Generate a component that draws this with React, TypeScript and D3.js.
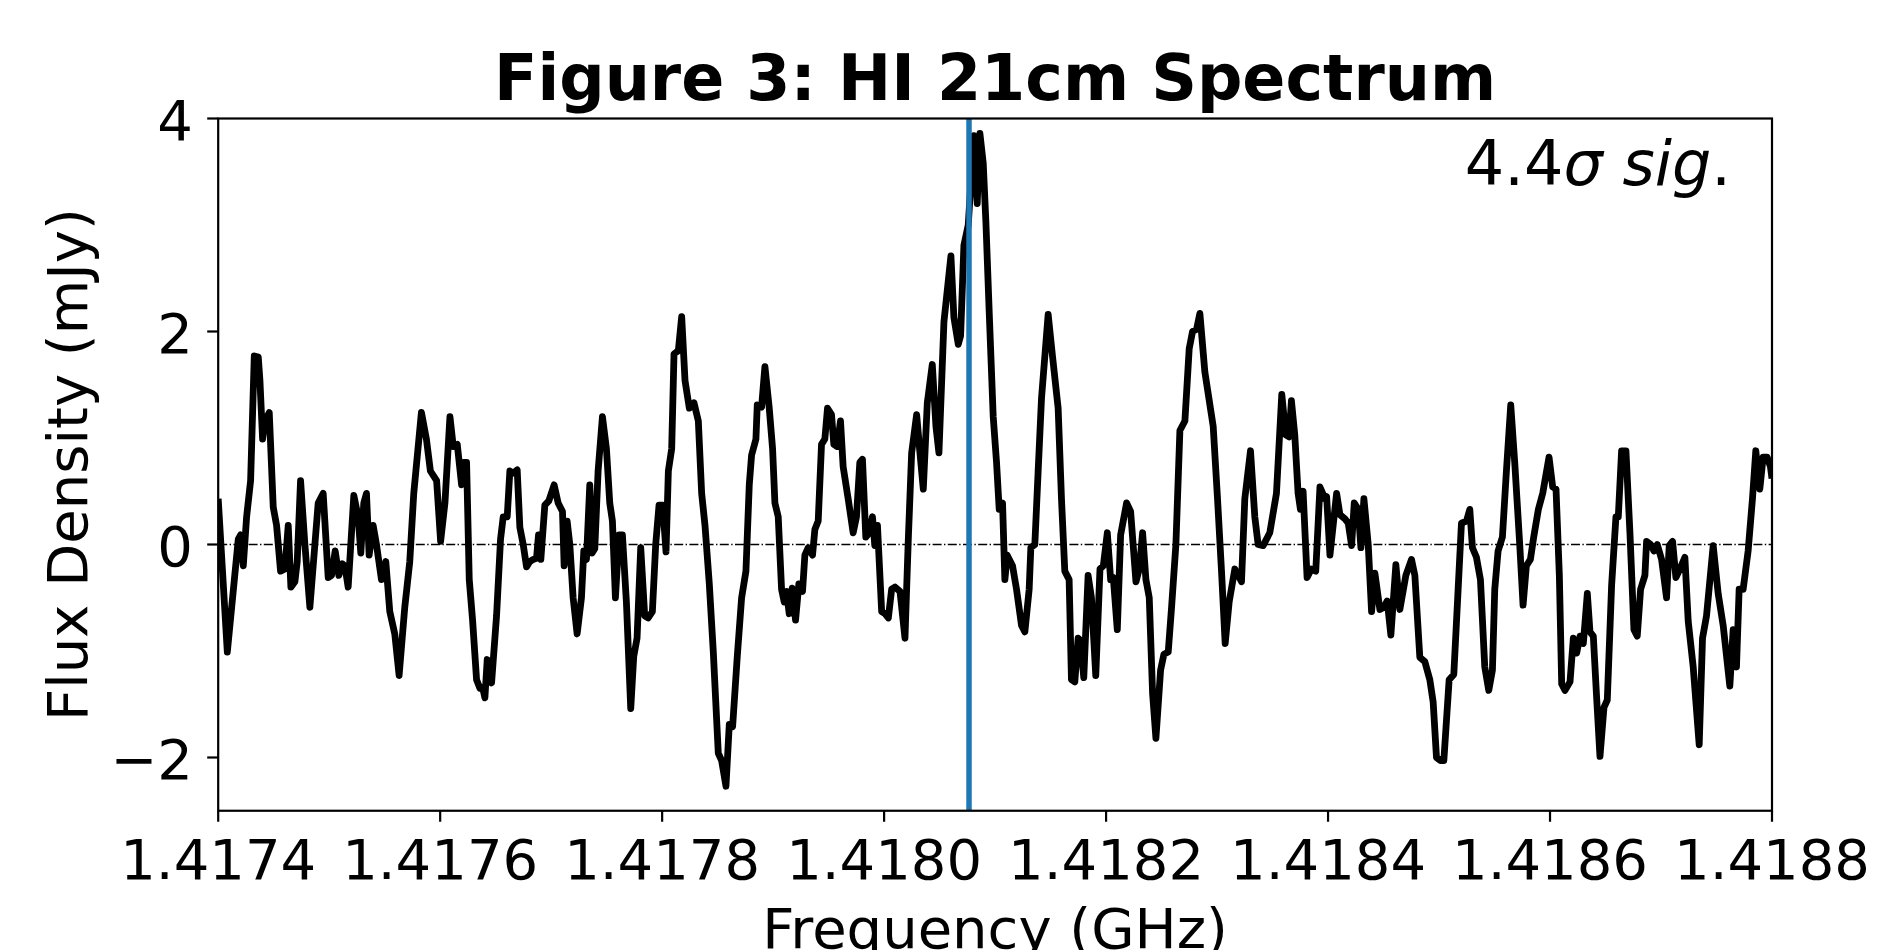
import React from "react";
import * as d3 from "d3";

// Frequency (GHz) of each traced vertex of the spectrum
const freqGHz = [
  1.4174000, 1.4174082, 1.4174181, 1.4174202, 1.4174226, 1.4174256, 1.4174292, 1.4174325, 1.4174361, 1.4174376,
  1.4174400, 1.4174421, 1.4174460, 1.4174496, 1.4174526, 1.4174562, 1.4174601, 1.4174631, 1.4174655, 1.4174691,
  1.4174712, 1.4174742, 1.4174781, 1.4174826, 1.4174901, 1.4174946, 1.4174991, 1.4175021, 1.4175054, 1.4175087,
  1.4175117, 1.4175141, 1.4175171, 1.4175222, 1.4175261, 1.4175285, 1.4175312, 1.4175336, 1.4175360, 1.4175396,
  1.4175426, 1.4175471, 1.4175510, 1.4175546, 1.4175591, 1.4175630, 1.4175681, 1.4175726, 1.4175762, 1.4175831,
  1.4175876, 1.4175912, 1.4175968, 1.4176004, 1.4176043, 1.4176088, 1.4176118, 1.4176154, 1.4176193, 1.4176214,
  1.4176238, 1.4176262, 1.4176292, 1.4176328, 1.4176358, 1.4176382, 1.4176403, 1.4176424, 1.4176463, 1.4176508,
  1.4176544, 1.4176568, 1.4176604, 1.4176628, 1.4176658, 1.4176694, 1.4176718, 1.4176748, 1.4176778, 1.4176808,
  1.4176838, 1.4176868, 1.4176886, 1.4176907, 1.4176943, 1.4176979, 1.4177027, 1.4177063, 1.4177102, 1.4177117,
  1.4177144, 1.4177168, 1.4177198, 1.4177234, 1.4177273, 1.4177294, 1.4177318, 1.4177348, 1.4177369, 1.4177393,
  1.4177423, 1.4177462, 1.4177498, 1.4177528, 1.4177552, 1.4177579, 1.4177612, 1.4177642, 1.4177678, 1.4177717,
  1.4177744, 1.4177774, 1.4177807, 1.4177843, 1.4177873, 1.4177912, 1.4177942, 1.4177972, 1.4178005, 1.4178035,
  1.4178056, 1.4178086, 1.4178107, 1.4178146, 1.4178176, 1.4178206, 1.4178245, 1.4178287, 1.4178326, 1.4178356,
  1.4178386, 1.4178425, 1.4178461, 1.4178506, 1.4178536, 1.4178575, 1.4178605, 1.4178635, 1.4178677, 1.4178716,
  1.4178755, 1.4178785, 1.4178806, 1.4178845, 1.4178857, 1.4178896, 1.4178926, 1.4178965, 1.4178995, 1.4179016,
  1.4179046, 1.4179076, 1.4179100, 1.4179121, 1.4179145, 1.4179172, 1.4179202, 1.4179232, 1.4179265, 1.4179286,
  1.4179316, 1.4179355, 1.4179376, 1.4179406, 1.4179436, 1.4179466, 1.4179490, 1.4179526, 1.4179547, 1.4179577,
  1.4179607, 1.4179631, 1.4179676, 1.4179721, 1.4179751, 1.4179781, 1.4179805, 1.4179835, 1.4179865, 1.4179895,
  1.4179916, 1.4179940, 1.4179978, 1.4180008, 1.4180038, 1.4180068, 1.4180098, 1.4180143, 1.4180188, 1.4180218,
  1.4180248, 1.4180293, 1.4180323, 1.4180353, 1.4180389, 1.4180434, 1.4180467, 1.4180494, 1.4180539, 1.4180602,
  1.4180629, 1.4180668, 1.4180689, 1.4180719, 1.4180758, 1.4180809, 1.4180839, 1.4180863, 1.4180893, 1.4180917,
  1.4180947, 1.4180983, 1.4181013, 1.4181037, 1.4181067, 1.4181088, 1.4181109, 1.4181157, 1.4181193, 1.4181238,
  1.4181268, 1.4181307, 1.4181322, 1.4181358, 1.4181388, 1.4181418, 1.4181478, 1.4181517, 1.4181568, 1.4181598,
  1.4181628, 1.4181667, 1.4181688, 1.4181718, 1.4181748, 1.4181769, 1.4181799, 1.4181838, 1.4181868, 1.4181907,
  1.4181945, 1.4181975, 1.4182011, 1.4182041, 1.4182065, 1.4182101, 1.4182131, 1.4182185, 1.4182221, 1.4182269,
  1.4182299, 1.4182329, 1.4182359, 1.4182389, 1.4182419, 1.4182449, 1.4182491, 1.4182521, 1.4182560, 1.4182590,
  1.4182629, 1.4182665, 1.4182710, 1.4182749, 1.4182779, 1.4182815, 1.4182845, 1.4182890, 1.4182965, 1.4183004,
  1.4183040, 1.4183073, 1.4183109, 1.4183160, 1.4183220, 1.4183250, 1.4183301, 1.4183340, 1.4183370, 1.4183415,
  1.4183475, 1.4183535, 1.4183583, 1.4183619, 1.4183649, 1.4183670, 1.4183700, 1.4183730, 1.4183751, 1.4183775,
  1.4183811, 1.4183850, 1.4183889, 1.4183927, 1.4183972, 1.4183987, 1.4184017, 1.4184077, 1.4184107, 1.4184152,
  1.4184182, 1.4184212, 1.4184236, 1.4184272, 1.4184296, 1.4184323, 1.4184362, 1.4184392, 1.4184422, 1.4184467,
  1.4184503, 1.4184533, 1.4184566, 1.4184611, 1.4184647, 1.4184701, 1.4184752, 1.4184782, 1.4184827, 1.4184872,
  1.4184917, 1.4184947, 1.4184977, 1.4185013, 1.4185043, 1.4185091, 1.4185133, 1.4185172, 1.4185202, 1.4185247,
  1.4185277, 1.4185301, 1.4185337, 1.4185373, 1.4185412, 1.4185448, 1.4185481, 1.4185502, 1.4185532, 1.4185571,
  1.4185607, 1.4185646, 1.4185682, 1.4185727, 1.4185757, 1.4185787, 1.4185823, 1.4185853, 1.4185895, 1.4185934,
  1.4185991, 1.4186024, 1.4186054, 1.4186084, 1.4186105, 1.4186135, 1.4186180, 1.4186210, 1.4186240, 1.4186270,
  1.4186300, 1.4186336, 1.4186360, 1.4186390, 1.4186420, 1.4186450, 1.4186486, 1.4186516, 1.4186555, 1.4186594,
  1.4186615, 1.4186645, 1.4186684, 1.4186720, 1.4186756, 1.4186786, 1.4186816, 1.4186855, 1.4186870, 1.4186906,
  1.4186936, 1.4186966, 1.4187005, 1.4187050, 1.4187074, 1.4187104, 1.4187134, 1.4187170, 1.4187215, 1.4187245,
  1.4187290, 1.4187344, 1.4187374, 1.4187410, 1.4187470, 1.4187515, 1.4187560, 1.4187620, 1.4187650, 1.4187680,
  1.4187704, 1.4187740, 1.4187785, 1.4187824, 1.4187854, 1.4187890, 1.4187920, 1.4187956, 1.4187986, 1.4188000,
];

// Flux density (mJy) at each of those frequencies
const fluxMJy = [
  0.43, -1.01, 0.05, 0.09, -0.20, 0.26, 0.60, 1.77, 1.76, 1.54,
  0.99, 1.16, 1.24, 0.35, 0.18, -0.25, -0.23, 0.18, -0.40, -0.35,
  -0.16, 0.60, 0.00, -0.59, 0.39, 0.48, -0.31, -0.29, -0.06, -0.29,
  -0.18, -0.20, -0.40, 0.46, 0.26, -0.08, 0.39, 0.48, -0.10, 0.18,
  0.00, -0.33, -0.16, -0.63, -0.84, -1.23, -0.59, -0.16, 0.48, 1.24,
  0.99, 0.69, 0.60, 0.03, 0.39, 1.20, 0.92, 0.94, 0.56, 0.77,
  0.77, -0.33, -0.71, -1.27, -1.35, -1.34, -1.44, -1.08, -1.30, -0.67,
  0.05, 0.26, 0.26, 0.69, 0.67, 0.70, 0.16, 0.00, -0.21, -0.16,
  -0.14, -0.13, 0.09, -0.14, 0.37, 0.41, 0.56, 0.39, 0.31, -0.20,
  0.22, 0.00, -0.50, -0.84, -0.50, -0.06, -0.14, 0.56, -0.08, -0.04,
  0.69, 1.20, 0.90, 0.39, 0.22, -0.50, 0.09, 0.09, -0.54, -1.54,
  -1.05, -0.88, -0.03, -0.67, -0.69, -0.63, 0.00, 0.37, 0.37, -0.07,
  0.69, 0.90, 1.79, 1.82, 2.14, 1.54, 1.28, 1.33, 1.16, 0.48,
  0.18, -0.37, -1.01, -1.96, -2.03, -2.27, -1.69, -1.71, -1.05, -0.50,
  -0.25, 0.56, 0.84, 0.99, 1.31, 1.29, 1.67, 1.28, 0.90, 0.39,
  0.26, -0.42, -0.54, -0.44, -0.65, -0.41, -0.71, -0.37, -0.44, -0.10,
  -0.03, -0.10, 0.14, 0.22, 0.94, 0.99, 1.28, 1.22, 0.94, 0.92,
  1.16, 0.73, 0.43, 0.11, 0.26, 0.77, 0.80, 0.07, 0.11, 0.26,
  -0.01, 0.18, -0.63, -0.65, -0.69, -0.42, -0.40, -0.44, -0.88, 0.05,
  0.86, 1.22, 0.86, 0.52, 1.33, 1.69, 1.11, 0.86, 2.09, 2.71,
  2.13, 1.88, 1.96, 2.81, 3.00, 3.84, 3.20, 3.86, 3.58, 3.03,
  2.18, 1.20, 0.77, 0.33, 0.39, -0.33, -0.10, -0.20, -0.42, -0.76,
  -0.82, -0.42, -0.03, 0.00, 0.69, 1.37, 2.16, 1.77, 1.28, 0.43,
  -0.25, -0.33, -1.27, -1.29, -0.88, -0.90, -1.25, -0.29, -0.50, -1.23,
  -0.23, -0.20, 0.11, -0.33, -0.31, -0.80, 0.09, 0.39, 0.31, -0.35,
  -0.23, 0.11, -0.33, -0.50, -1.40, -1.82, -1.18, -1.03, -1.01, -0.59,
  0.00, 1.07, 1.16, 1.84, 2.00, 2.02, 2.17, 1.62, 1.11, 0.43,
  -0.25, -0.93, -0.54, -0.23, -0.35, 0.43, 0.88, 0.26, 0.00, -0.01,
  0.11, 0.48, 1.41, 1.03, 1.01, 1.35, 1.03, 0.48, 0.33, 0.50,
  -0.31, -0.23, -0.25, 0.54, 0.43, 0.45, -0.10, 0.48, 0.28, 0.24,
  0.20, -0.01, 0.39, 0.33, -0.03, 0.43, 0.00, -0.63, -0.27, -0.61,
  -0.59, -0.53, -0.85, -0.19, -0.61, -0.29, -0.14, -0.29, -1.06, -1.10,
  -1.27, -1.48, -2.00, -2.03, -2.03, -1.27, -1.22, -0.42, 0.20, 0.22,
  0.33, -0.03, -0.12, -0.33, -1.15, -1.37, -1.18, -0.42, -0.06, 0.07,
  0.69, 1.31, 0.77, 0.00, -0.57, -0.20, -0.14, 0.07, 0.33, 0.48,
  0.82, 0.54, 0.52, -0.29, -1.31, -1.37, -1.29, -0.88, -1.02, -0.86,
  -0.93, -0.46, -0.82, -0.86, -1.44, -1.99, -1.53, -1.46, -0.38, 0.26,
  0.26, 0.88, 0.88, 0.11, -0.80, -0.86, -0.42, -0.29, 0.03, 0.00,
  -0.06, 0.00, -0.14, -0.50, -0.01, 0.03, -0.31, -0.23, -0.12, -0.72,
  -1.15, -1.88, -0.88, -0.67, -0.01, -0.46, -0.76, -1.33, -0.80, -1.15,
  -0.42, -0.42, -0.06, 0.43, 0.88, 0.52, 0.82, 0.82, 0.73, 0.62,
];

const xTicks = [1.4174, 1.4176, 1.4178, 1.418, 1.4182, 1.4184, 1.4186, 1.4188];
const xTickLabels = ["1.4174", "1.4176", "1.4178", "1.4180", "1.4182", "1.4184", "1.4186", "1.4188"];
const yTicks = [-2, 0, 2, 4];
const yTickLabels = ["\u22122", "0", "2", "4"];
const xDomain = [1.4174, 1.4188];
const yDomain = [-2.5, 4];
const lineCenterGHz = 1.4180765;
const titleText = "Figure 3: HI 21cm Spectrum";
const xLabelText = "Frequency (GHz)";
const yLabelText = "Flux Density (mJy)";

const W = 1880;
const H = 950;
const L = 218.2;
const R = 1772;
const T = 118.5;
const B = 810.75;
const FONT = "'DejaVu Sans', sans-serif";

export default function App() {
  const x = d3.scaleLinear().domain(xDomain).range([L, R]);
  const y = d3.scaleLinear().domain(yDomain).range([B, T]);
  const pts = freqGHz.map((f, i) => [f, fluxMJy[i]] as [number, number]);
  const path = d3
    .line<[number, number]>()
    .x((d) => x(d[0]))
    .y((d) => y(d[1]))(pts) || "";
  const tickLen = 11;
  return (
    <svg
      width={W}
      height={H}
      viewBox={`0 0 ${W} ${H}`}
      style={{ position: "absolute", left: 0, top: 0, display: "block", background: "#fff" }}
    >
      <defs>
        <clipPath id="plotClip">
          <rect x={L} y={T} width={R - L} height={B - T} />
        </clipPath>
      </defs>
      <rect x={0} y={0} width={W} height={H} fill="#fff" />
      <g clipPath="url(#plotClip)">
        <path d={path} fill="none" stroke="#000" strokeWidth={6.8} strokeLinejoin="round" strokeLinecap="butt" />
        <line x1={L} x2={R} y1={y(0)} y2={y(0)} stroke="#000" strokeWidth={1.4} strokeDasharray="9,2.4,1.4,2.4" />
        <line x1={x(lineCenterGHz)} x2={x(lineCenterGHz)} y1={T} y2={B} stroke="#1f77b4" strokeWidth={5.5} />
      </g>
      <rect x={L} y={T} width={R - L} height={B - T} fill="none" stroke="#000" strokeWidth={2.2} />
      {xTicks.map((t, i) => (
        <g key={"xt" + i}>
          <line x1={x(t)} x2={x(t)} y1={B} y2={B + tickLen} stroke="#000" strokeWidth={2.2} />
          <text x={x(t)} y={879} textAnchor="middle" fontFamily={FONT} fontSize={56} fill="#000">
            {xTickLabels[i]}
          </text>
        </g>
      ))}
      {yTicks.map((t, i) => (
        <g key={"yt" + i}>
          <line x1={L - tickLen} x2={L} y1={y(t)} y2={y(t)} stroke="#000" strokeWidth={2.2} />
          <text x={193} y={y(t) + 21} textAnchor="end" fontFamily={FONT} fontSize={56} fill="#000">
            {yTickLabels[i]}
          </text>
        </g>
      ))}
      <text x={(L + R) / 2} y={100} textAnchor="middle" fontFamily={FONT} fontWeight="bold" fontSize={63.5} fill="#000">
        {titleText}
      </text>
      <text x={(L + R) / 2} y={948} textAnchor="middle" fontFamily={FONT} fontSize={56} fill="#000">
        {xLabelText}
      </text>
      <text
        transform={`translate(87, ${(T + B) / 2}) rotate(-90)`}
        textAnchor="middle"
        fontFamily={FONT}
        fontSize={56}
        fill="#000"
      >
        {yLabelText}
      </text>
      <text x={1731} y={185} textAnchor="end" fontFamily={FONT} fontSize={62} fill="#000">
        <tspan>4.4</tspan>
        <tspan fontStyle="italic">σ sig</tspan>
        <tspan>.</tspan>
      </text>
    </svg>
  );
}
